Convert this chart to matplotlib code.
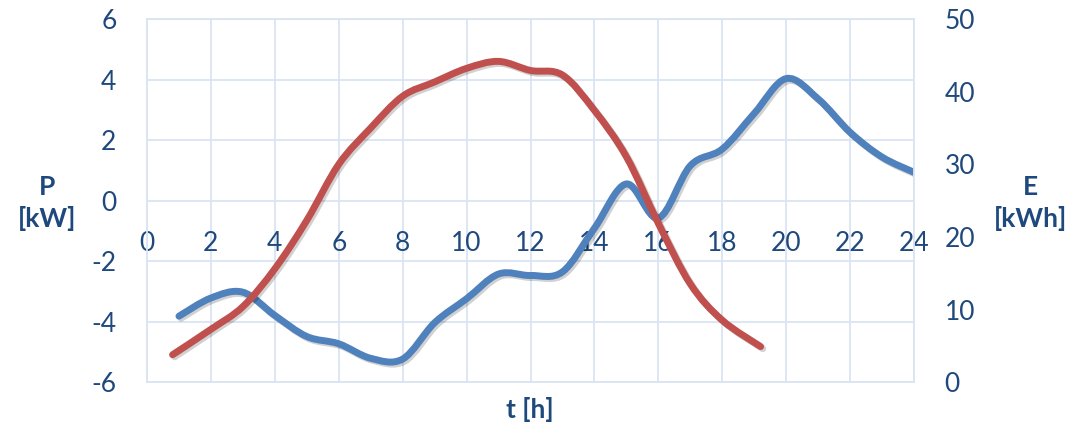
import matplotlib
matplotlib.use("Agg")
import matplotlib.pyplot as plt
import matplotlib.patheffects as pe
from matplotlib.path import Path
from matplotlib.patches import PathPatch

# power P [kW] (red, left axis)
t_p = [0.8, 2, 3, 4, 5, 6, 7, 8, 9, 10, 11, 12, 13, 14, 15, 16, 17, 18, 19.2]
p_kw = [-5.09, -4.25, -3.5, -2.25, -0.65, 1.2, 2.4, 3.45, 3.92, 4.37, 4.6,
        4.3, 4.15, 2.98, 1.45, -0.75, -2.75, -3.95, -4.82]

# energy E [kWh] (blue, right axis)
t_e = list(range(1, 25))
e_kwh = [9.1, 11.6, 12.4, 9.2, 6.3, 5.3, 3.3, 3.2, 8.2, 11.5, 14.9, 14.7,
         15.2, 21.2, 27.3, 22.6, 29.8, 32.1, 37.0, 41.8, 39.0, 34.4, 31.0, 28.9]

x_ticks = list(range(0, 25, 2))
p_ticks = list(range(-6, 7, 2))
e_ticks = list(range(0, 51, 10))

RED = '#C0504D'
BLUE = '#4F81BD'
TXT = '#1F497D'
GRID = '#D9E4F3'
FONT = 'Lato'

plt.rcParams['axes.unicode_minus'] = False


def smooth_path(xs, ys):
    '''Excel-like smoothed line: Catmull-Rom turned into cubic Bezier segments.'''
    pts = list(zip(xs, ys))
    verts = [pts[0]]
    codes = [Path.MOVETO]
    n = len(pts)
    for i in range(n - 1):
        p0 = pts[max(i - 1, 0)]
        p1 = pts[i]
        p2 = pts[i + 1]
        p3 = pts[min(i + 2, n - 1)]
        c1 = (p1[0] + (p2[0] - p0[0]) / 6, p1[1] + (p2[1] - p0[1]) / 6)
        c2 = (p2[0] - (p3[0] - p1[0]) / 6, p2[1] - (p3[1] - p1[1]) / 6)
        verts += [c1, c2, p2]
        codes += [Path.CURVE4] * 3
    return Path(verts, codes)


def draw_line(ax, trans, xs, ys, color):
    patch = PathPatch(smooth_path(xs, ys), facecolor='none', edgecolor=color,
                      lw=5, transform=trans, capstyle='round', joinstyle='round')
    patch.set_path_effects([pe.SimpleLineShadow(offset=(1.5, -1.5), shadow_color='black', alpha=0.18),
                            pe.Normal()])
    ax.add_patch(patch)


fig = plt.figure(figsize=(10.7, 4.26), dpi=100)
ax = fig.add_axes([0.1374, 0.1026, 0.7168, 0.8528])
ax2 = ax.twinx()

ax.set_xlim(0, 24)
ax.set_ylim(-6, 6)
ax2.set_ylim(0, 50)

ax.set_xticks(x_ticks)
ax.set_yticks(p_ticks)
ax2.set_yticks(e_ticks)

ax.grid(True, color=GRID, lw=1.3)
ax.set_axisbelow(True)

for s in ax.spines.values():
    s.set_visible(False)
ax.spines['bottom'].set_position(('data', 0))
for s in ax2.spines.values():
    s.set_color(GRID)
    s.set_linewidth(1.3)

ax.tick_params(axis='x', length=0, pad=22, labelsize=19, labelcolor=TXT)
ax.tick_params(axis='y', length=0, pad=22, labelsize=19, labelcolor=TXT)
ax2.tick_params(axis='y', length=0, pad=22, labelsize=19, labelcolor=TXT)
for lab in ax.get_xticklabels() + ax.get_yticklabels() + ax2.get_yticklabels():
    lab.set_fontfamily(FONT)

# blue on the right axis, red drawn above it using the left axis scale
draw_line(ax2, ax2.transData, t_e, e_kwh, BLUE)
draw_line(ax2, ax.transData, t_p, p_kw, RED)

fig.text(47 / 1070, 1 - 203 / 426, 'P\n[kW]', ha='center', va='center', fontsize=19,
         fontweight='bold', color=TXT, family=FONT, linespacing=1.3)
fig.text(1030 / 1070, 1 - 203 / 426, 'E\n[kWh]', ha='center', va='center', fontsize=19,
         fontweight='bold', color=TXT, family=FONT, linespacing=1.3)
fig.text(530 / 1070, 1 - 410 / 426, 't [h]', ha='center', va='center', fontsize=19,
         fontweight='bold', color=TXT, family=FONT)

fig.savefig('out.png', dpi=100)
